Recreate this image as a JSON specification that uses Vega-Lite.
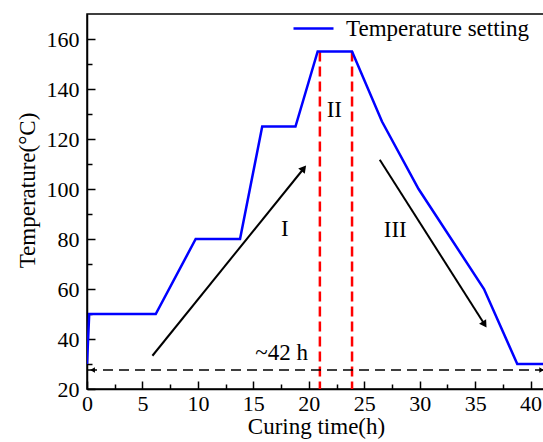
{
  "$schema": "https://vega.github.io/schema/vega-lite/v6.json",
  "autosize": "none",
  "padding": {"left": 87, "top": 14, "right": 0, "bottom": 53},
  "width": 458,
  "height": 375,
  "background": "white",
  "config": {
    "view": {"stroke": "black", "strokeWidth": 1.5},
    "font": "Liberation Serif",
    "axis": {
      "grid": false,
      "labelFlush": false,
      "labelOverlap": false,
      "domainColor": "black",
      "domainWidth": 1.5,
      "tickColor": "black",
      "tickWidth": 1.5,
      "labelColor": "black",
      "titleColor": "black",
      "labelFont": "Liberation Serif",
      "titleFont": "Liberation Serif",
      "labelFontSize": 22,
      "titleFontSize": 23,
      "titleFontWeight": "normal"
    }
  },
  "datasets": {
    "setting": [
      {"t": 0, "temp": 30, "series": "Temperature setting"},
      {"t": 0.2, "temp": 50, "series": "Temperature setting"},
      {"t": 6.2, "temp": 50, "series": "Temperature setting"},
      {"t": 9.8, "temp": 80, "series": "Temperature setting"},
      {"t": 13.8, "temp": 80, "series": "Temperature setting"},
      {"t": 15.8, "temp": 125, "series": "Temperature setting"},
      {"t": 18.8, "temp": 125, "series": "Temperature setting"},
      {"t": 20.8, "temp": 155, "series": "Temperature setting"},
      {"t": 23.9, "temp": 155, "series": "Temperature setting"},
      {"t": 26.6, "temp": 127, "series": "Temperature setting"},
      {"t": 29.9, "temp": 100, "series": "Temperature setting"},
      {"t": 35.8, "temp": 60, "series": "Temperature setting"},
      {"t": 38.8, "temp": 30, "series": "Temperature setting"},
      {"t": 41.3, "temp": 30, "series": "Temperature setting"}
    ],
    "stages": [
      {"t": 21.0, "top": 155, "bottom": 20},
      {"t": 23.9, "top": 155, "bottom": 20}
    ],
    "duration": [
      {"t0": 0, "t1": 41.3, "temp": 27.6}
    ],
    "arrows": [
      {"t0": 5.9, "y0": 33.3, "t1": 19.6, "y1": 108.5},
      {"t0": 26.4, "y0": 111.7, "t1": 35.9, "y1": 45.5}
    ],
    "headUp": [{"t": 19.55, "temp": 108.3}],
    "headDown": [{"t": 35.85, "temp": 45.8}],
    "headLeft": [{"t": 0.5, "temp": 27.6}],
    "headRight": [{"t": 41.0, "temp": 27.6}],
    "labels": [
      {"t": 17.85, "temp": 84, "text": "I"},
      {"t": 22.3, "temp": 131.5, "text": "II"},
      {"t": 27.8, "temp": 83.5, "text": "III"},
      {"t": 17.55, "temp": 34.5, "text": "~42 h"}
    ]
  },
  "resolve": {"axis": {"x": "independent", "y": "independent"}},
  "layer": [
    {
      "layer": [
        {
          "data": {"name": "stages"},
          "mark": {"type": "rule", "color": "#FF0000", "strokeWidth": 2.5, "strokeDash": [10, 5]},
          "encoding": {
            "x": {"field": "t", "type": "quantitative"},
            "y": {"field": "top", "type": "quantitative"},
            "y2": {"field": "bottom"}
          }
        },
        {
          "data": {"name": "duration"},
          "mark": {"type": "rule", "color": "black", "strokeWidth": 1.5, "strokeDash": [10, 6]},
          "encoding": {
            "x": {"field": "t0", "type": "quantitative"},
            "x2": {"field": "t1"},
            "y": {"field": "temp", "type": "quantitative"}
          }
        },
        {
          "data": {"name": "setting"},
          "mark": {"type": "line", "strokeWidth": 2.5, "clip": true},
          "encoding": {
            "x": {
              "field": "t", "type": "quantitative",
              "scale": {"domain": [0, 41.3], "nice": false, "zero": false},
              "axis": {"title": "Curing time(h)", "values": [0, 5, 10, 15, 20, 25, 30, 35, 40], "tickSize": -8, "labelPadding": 12, "titlePadding": 1}
            },
            "y": {
              "field": "temp", "type": "quantitative",
              "scale": {"domain": [20, 170], "nice": false, "zero": false},
              "axis": {"title": "Temperature(°C)", "values": [20, 40, 60, 80, 100, 120, 140, 160], "tickSize": -8, "labelPadding": 16,
                "titleX": -53, "titleY": 176, "titleAngle": -90, "titleAlign": "center", "titleBaseline": "alphabetic"}
            },
            "color": {
              "field": "series", "type": "nominal",
              "scale": {"domain": ["Temperature setting"], "range": ["#0000FF"]},
              "legend": {
                "title": null, "orient": "none", "legendX": 205, "legendY": -7,
                "symbolType": "stroke", "symbolSize": 1600, "symbolStrokeWidth": 2.5,
                "labelFontSize": 23, "labelFont": "Liberation Serif", "labelColor": "black",
                "labelOffset": 11, "padding": 0, "labelLimit": 300
              }
            }
          }
        },
        {
          "data": {"name": "arrows"},
          "mark": {"type": "rule", "color": "black", "strokeWidth": 2},
          "encoding": {
            "x": {"field": "t0", "type": "quantitative"},
            "x2": {"field": "t1"},
            "y": {"field": "y0", "type": "quantitative"},
            "y2": {"field": "y1"}
          }
        },
        {
          "data": {"name": "headUp"},
          "mark": {"type": "point", "shape": "triangle-up", "filled": true, "color": "black", "size": 70, "angle": 39, "opacity": 1},
          "encoding": {"x": {"field": "t", "type": "quantitative"}, "y": {"field": "temp", "type": "quantitative"}}
        },
        {
          "data": {"name": "headDown"},
          "mark": {"type": "point", "shape": "triangle-up", "filled": true, "color": "black", "size": 70, "angle": 147, "opacity": 1},
          "encoding": {"x": {"field": "t", "type": "quantitative"}, "y": {"field": "temp", "type": "quantitative"}}
        },
        {
          "data": {"name": "headLeft"},
          "mark": {"type": "point", "shape": "triangle-left", "filled": true, "color": "black", "size": 30, "opacity": 1},
          "encoding": {"x": {"field": "t", "type": "quantitative"}, "y": {"field": "temp", "type": "quantitative"}}
        },
        {
          "data": {"name": "headRight"},
          "mark": {"type": "point", "shape": "triangle-right", "filled": true, "color": "black", "size": 30, "opacity": 1},
          "encoding": {"x": {"field": "t", "type": "quantitative"}, "y": {"field": "temp", "type": "quantitative"}}
        },
        {
          "data": {"name": "labels"},
          "mark": {"type": "text", "font": "Liberation Serif", "fontSize": 23, "color": "black", "align": "center", "baseline": "middle"},
          "encoding": {
            "x": {"field": "t", "type": "quantitative"},
            "y": {"field": "temp", "type": "quantitative"},
            "text": {"field": "text"}
          }
        }
      ]
    },
    {
      "data": {"values": [{"t": 0, "temp": 20}]},
      "mark": {"type": "point", "opacity": 0},
      "encoding": {
        "x": {"field": "t", "type": "quantitative",
          "axis": {"orient": "bottom", "title": null, "labels": false, "domain": false, "values": [2.5, 7.5, 12.5, 17.5, 22.5, 27.5, 32.5, 37.5], "tickSize": -5}},
        "y": {"field": "temp", "type": "quantitative",
          "axis": {"orient": "left", "title": null, "labels": false, "domain": false, "values": [30, 50, 70, 90, 110, 130, 150], "tickSize": -5}}
      }
    }
  ]
}
